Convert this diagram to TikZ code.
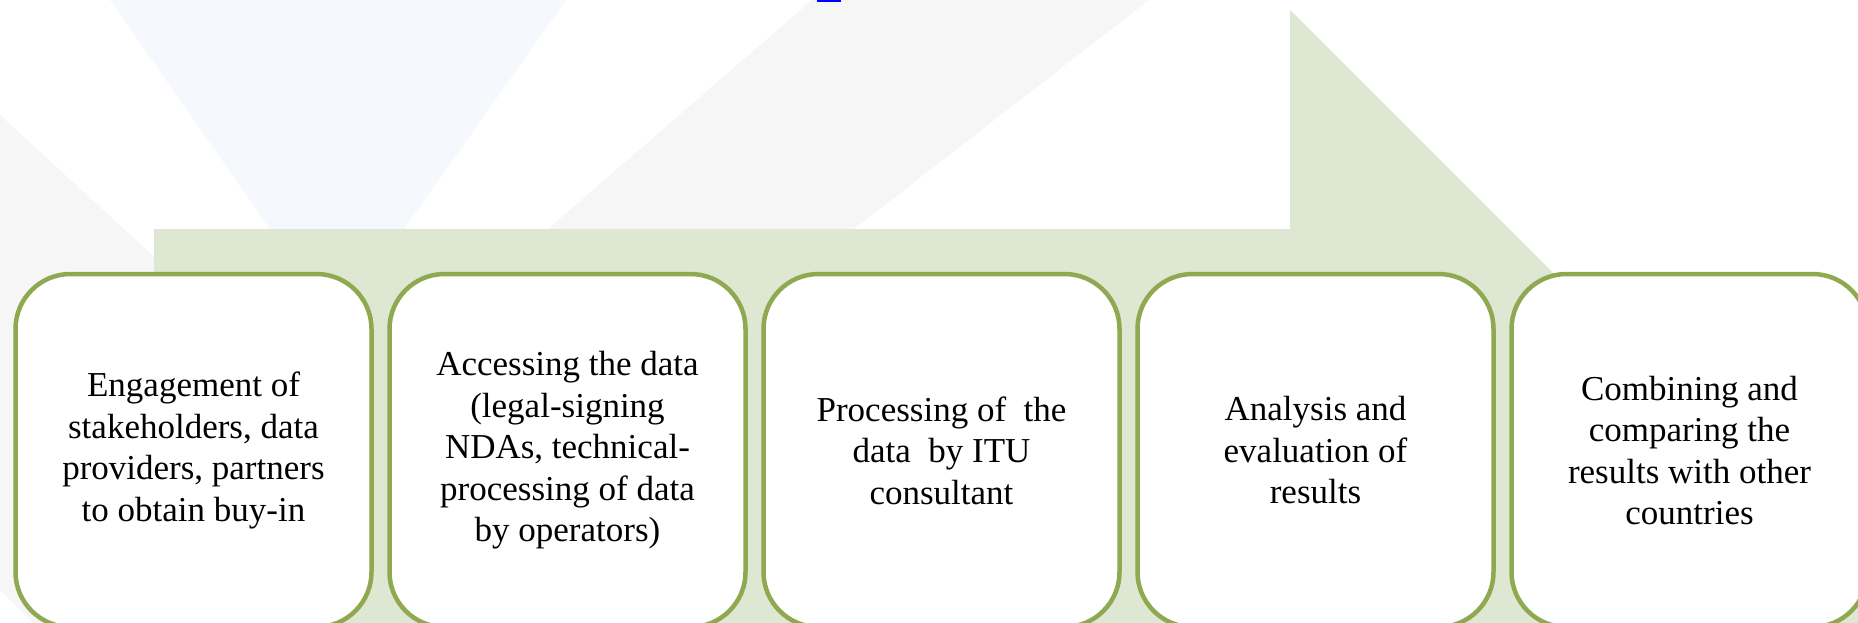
\documentclass[tikz,border=0pt]{standalone}
\usepackage{fontspec}
\setmainfont{Liberation Serif}
\usetikzlibrary{positioning}
\definecolor{stagegreen}{RGB}{142,169,80}
\definecolor{arrowgreen}{RGB}{222,231,209}
\definecolor{shadegray}{RGB}{246,246,246}
\definecolor{shadeblue}{RGB}{245,248,252}
\tikzset{
  stage/.style={draw=stagegreen, line width=4.5pt, fill=white, rounded corners=55pt,
    minimum width=356pt, minimum height=353pt, inner sep=0pt, align=center,
    font=\fontsize{35}{41.5}\selectfont}
}
\begin{document}
\begin{tikzpicture}[x=1pt,y=-1pt]
\useasboundingbox (0,0) rectangle (1858,623);
\clip (0,0) rectangle (1858,623);
% Faint shapes in the back
\fill[shadeblue] (110,0) -- (566,0) -- (404,229) -- (270,229) -- cycle;
\fill[shadegray] (812,0) -- (1149,0) -- (854,229) -- (548,229) -- cycle;
\fill[shadegray] (0,115) -- (552,623) -- (33,623) -- (0,590) -- cycle;
\fill[blue] (817,0) rectangle (841,2.5);
% Big arrow behind the steps
\fill[arrowgreen] (154,650) -- (154,229) -- (1290,229) -- (1290,10) -- (1930,650) -- cycle;
% Steps
\node[stage] (s1) at (193.5,450.5) {Engagement of\\ stakeholders, data\\ providers, partners\\ to obtain buy-in};
\node[stage, right=13.5pt of s1] (s2) {Accessing the data\\ (legal-signing\\ NDAs, technical-\\ processing of data\\ by operators)};
\node[stage, right=13.5pt of s2] (s3) {Processing of~ the\\ data~ by ITU\\ consultant};
\node[stage, right=13.5pt of s3] (s4) {Analysis and\\ evaluation of\\ results};
\node[stage, right=13.5pt of s4] (s5) {Combining and\\ comparing the\\ results with other\\ countries};
\end{tikzpicture}
\end{document}
